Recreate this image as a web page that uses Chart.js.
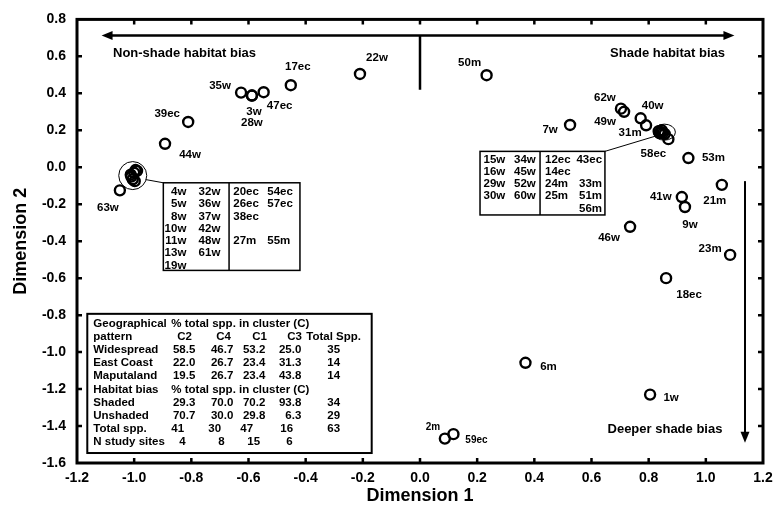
<!DOCTYPE html>
<html>
<head>
<meta charset="utf-8">
<script src="https://cdn.jsdelivr.net/npm/chart.js@4.4.1/dist/chart.umd.min.js"></script>
<style>
  html, body { margin: 0; padding: 0; background: #fff; }
  #wrap { width: 784px; height: 508px; }
</style>
</head>
<body>
<div id="wrap"><canvas id="ordination" width="784" height="508"></canvas></div>
<script>
// labelled sites (scores on the two ordination dimensions)
const siteLabels = ['22w', '17ec', '47ec', '3w', '28w', '35w', '39ec', '44w', '63w', '50m',
  '62w', '49w', '40w', '31m', '58ec', '7w', '53m', '21m', '41w', '9w',
  '46w', '23m', '18ec', '6m', '1w', '2m', '59ec'];
const dim1 = [-0.21, -0.452, -0.547, -0.588, -0.588, -0.626, -0.811, -0.892, -1.05, 0.233,
  0.703, 0.714, 0.772, 0.791, 0.869, 0.525, 0.939, 1.056, 0.916, 0.927,
  0.735, 1.085, 0.861, 0.369, 0.805, 0.087, 0.117];
const dim2 = [0.505, 0.444, 0.406, 0.388, 0.388, 0.404, 0.245, 0.127, -0.125, 0.498,
  0.317, 0.30, 0.265, 0.227, 0.152, 0.229, 0.05, -0.095, -0.161, -0.215,
  -0.322, -0.474, -0.60, -1.058, -1.23, -1.468, -1.444];

// tight clusters, listed in the boxes
const clusterC2Dim1 = [-0.995, -1.0, -1.01, -1.005, -0.998, -1.012, -0.99];
const clusterC2Dim2 = [-0.015, -0.03, -0.05, -0.065, -0.075, -0.04, -0.02];
const clusterC4Dim1 = [0.835, 0.842, 0.85, 0.856, 0.846, 0.838];
const clusterC4Dim2 = [0.195, 0.19, 0.185, 0.18, 0.2, 0.185];

const clusterC2Sites = [
  ['4w', '32w', '20ec', '54ec'],
  ['5w', '36w', '26ec', '57ec'],
  ['8w', '37w', '38ec', ''],
  ['10w', '42w', '', ''],
  ['11w', '48w', '27m', '55m'],
  ['13w', '61w', '', ''],
  ['19w', '', '', '']
];
const clusterC4Sites = [
  ['15w', '34w', '12ec', '43ec'],
  ['16w', '45w', '14ec', ''],
  ['29w', '52w', '24m', '33m'],
  ['30w', '60w', '25m', '51m'],
  ['', '', '', '56m']
];

// summary table
const clusterNames = ['C2', 'C4', 'C1', 'C3'];
const geoPatterns = ['Widespread', 'East Coast', 'Maputaland'];
const geoPct = [[58.5, 46.7, 53.2, 25.0], [22.0, 26.7, 23.4, 31.3], [19.5, 26.7, 23.4, 43.8]];
const geoTotal = [35, 14, 14];
const habitatBias = ['Shaded', 'Unshaded'];
const habitatPct = [[29.3, 70.0, 70.2, 93.8], [70.7, 30.0, 29.8, 6.3]];
const habitatTotal = [34, 29];
const totalSpp = [41, 30, 47, 16];
const totalSppAll = 63;
const studySites = [4, 8, 15, 6];

const FONT = '"Liberation Sans", Arial, sans-serif';

// where each site label sits relative to its circle (px)
const labelOffsets = {
  '22w': [17, -16], '17ec': [7, -18], '47ec': [16, 14], '3w': [2, 16], '28w': [0, 27],
  '35w': [-21, -7], '39ec': [-21, -8], '44w': [25, 11], '63w': [-12, 17], '50m': [-17, -12],
  '62w': [-16, -11], '49w': [-19, 10], '40w': [12, -12], '31m': [-16, 8], '58ec': [-15, 15],
  '7w': [-20, 5], '53m': [25, 0], '21m': [-7, 16], '41w': [-21, 0], '9w': [5, 18],
  '46w': [-21, 11], '23m': [-20, -6], '18ec': [23, 17], '6m': [23, 4], '1w': [21, 3],
  '2m': [-12, -11], '59ec': [23, 6]
};
const smallLabels = ['2m', '59ec'];

function fmtTick(v) {
  if (Math.abs(v) < 1e-9) return '0.0';
  return Number(v).toFixed(1);
}

function toPts(xs, ys) {
  return xs.map((x, i) => ({ x: x, y: ys[i] }));
}

function arrowHead(ctx, x, y, dir) {
  // dir: 'left' | 'right' | 'down'
  ctx.beginPath();
  if (dir === 'left') { ctx.moveTo(x, y); ctx.lineTo(x + 11, y - 4.5); ctx.lineTo(x + 11, y + 4.5); }
  if (dir === 'right') { ctx.moveTo(x, y); ctx.lineTo(x - 11, y - 4.5); ctx.lineTo(x - 11, y + 4.5); }
  if (dir === 'down') { ctx.moveTo(x, y); ctx.lineTo(x - 4.5, y - 11); ctx.lineTo(x + 4.5, y - 11); }
  ctx.closePath();
  ctx.fill();
}

const decorations = {
  id: 'decorations',
  afterDatasetsDraw(chart) {
    const ctx = chart.ctx;
    const sx = chart.scales.x, sy = chart.scales.y;
    const X = v => sx.getPixelForValue(v);
    const Y = v => sy.getPixelForValue(v);
    const area = chart.chartArea;
    ctx.save();
    ctx.fillStyle = '#000';
    ctx.strokeStyle = '#000';

    // frame
    ctx.lineWidth = 3;
    ctx.strokeRect(area.left, area.top, area.right - area.left, area.bottom - area.top);

    // inward tick marks on all four sides
    ctx.lineWidth = 2.5;
    sx.ticks.forEach(t => {
      const p = X(t.value);
      if (p <= area.left + 2 || p >= area.right - 2) return;
      ctx.beginPath();
      ctx.moveTo(p, area.bottom); ctx.lineTo(p, area.bottom - 5);
      ctx.moveTo(p, area.top); ctx.lineTo(p, area.top + 5);
      ctx.stroke();
    });
    sy.ticks.forEach(t => {
      const p = Y(t.value);
      if (p <= area.top + 2 || p >= area.bottom - 2) return;
      ctx.beginPath();
      ctx.moveTo(area.left, p); ctx.lineTo(area.left + 5, p);
      ctx.moveTo(area.right, p); ctx.lineTo(area.right - 5, p);
      ctx.stroke();
    });

    // habitat bias arrows
    const ay = Y(0.713);
    ctx.lineWidth = 2.5;
    ctx.beginPath();
    ctx.moveTo(X(-1.114) + 8, ay); ctx.lineTo(X(1.10) - 8, ay);
    ctx.moveTo(X(0), ay); ctx.lineTo(X(0), Y(0.419));
    ctx.stroke();
    arrowHead(ctx, X(-1.114), ay, 'left');
    arrowHead(ctx, X(1.10), ay, 'right');
    ctx.lineWidth = 2;
    ctx.beginPath();
    ctx.moveTo(X(1.137), Y(-0.075)); ctx.lineTo(X(1.137), Y(-1.49) - 8);
    ctx.stroke();
    arrowHead(ctx, X(1.137), Y(-1.49), 'down');

    ctx.font = 'bold 13px ' + FONT;
    ctx.textBaseline = 'middle';
    ctx.textAlign = 'left';
    ctx.fillText('Non-shade habitat bias', X(-1.074), Y(0.617));
    ctx.textAlign = 'right';
    ctx.fillText('Shade habitat bias', X(1.067), Y(0.617));
    ctx.textAlign = 'center';
    ctx.fillText('Deeper shade bias', X(0.857), Y(-1.417));

    // site labels
    siteLabels.forEach((lab, i) => {
      const off = labelOffsets[lab] || [0, -12];
      ctx.font = (smallLabels.includes(lab) ? 'bold 10px ' : 'bold 11.5px ') + FONT;
      ctx.fillText(lab, X(dim1[i]) + off[0], Y(dim2[i]) + off[1]);
    });

    // cluster rings and connectors
    ctx.lineWidth = 1;
    ctx.beginPath();
    ctx.ellipse(X(-1.005), Y(-0.045), 14, 14, 0, 0, Math.PI * 2);
    ctx.stroke();
    ctx.beginPath();
    ctx.ellipse(X(0.855), Y(0.19), 11, 8, 0, 0, Math.PI * 2);
    ctx.stroke();

    // box for cluster C2
    const b1 = { l: X(-0.898), t: Y(-0.084), r: X(-0.42), b: Y(-0.558) };
    const b1Div = X(-0.668);
    ctx.beginPath();
    ctx.moveTo(X(-1.005) + 13, Y(-0.045) + 4); ctx.lineTo(b1.l, b1.t);
    ctx.stroke();
    ctx.lineWidth = 1.5;
    ctx.strokeRect(b1.l, b1.t, b1.r - b1.l, b1.b - b1.t);
    ctx.beginPath(); ctx.moveTo(b1Div, b1.t); ctx.lineTo(b1Div, b1.b); ctx.stroke();
    ctx.font = 'bold 11.5px ' + FONT;
    clusterC2Sites.forEach((row, r) => {
      const y = b1.t + 9 + r * 12.3;
      ctx.textAlign = 'right';
      ctx.fillText(row[0], b1.l + 23, y);
      ctx.fillText(row[1], b1.l + 57, y);
      ctx.textAlign = 'left';
      ctx.fillText(row[2], b1.l + 70, y);
      ctx.fillText(row[3], b1.l + 104, y);
    });

    // box for cluster C4
    const b2 = { l: X(0.21), t: Y(0.086), r: X(0.647), b: Y(-0.258) };
    const b2Div = X(0.42);
    ctx.lineWidth = 1;
    ctx.beginPath();
    ctx.moveTo(b2.r, b2.t); ctx.lineTo(X(0.855) - 9, Y(0.19) + 4);
    ctx.stroke();
    ctx.lineWidth = 1.5;
    ctx.strokeRect(b2.l, b2.t, b2.r - b2.l, b2.b - b2.t);
    ctx.beginPath(); ctx.moveTo(b2Div, b2.t); ctx.lineTo(b2Div, b2.b); ctx.stroke();
    clusterC4Sites.forEach((row, r) => {
      const y = b2.t + 8 + r * 12.3;
      ctx.textAlign = 'left';
      ctx.fillText(row[0], b2.l + 3.5, y);
      ctx.fillText(row[1], b2.l + 34, y);
      ctx.fillText(row[2], b2.l + 65, y);
      ctx.textAlign = 'right';
      ctx.fillText(row[3], b2.l + 122, y);
    });

    // summary table
    const tb = { l: X(-1.164), t: Y(-0.793), r: X(-0.169), b: Y(-1.546) };
    ctx.lineWidth = 2;
    ctx.strokeRect(tb.l, tb.t, tb.r - tb.l, tb.b - tb.t);
    const rowY = i => tb.t + 10 + i * 13.1;
    const labX = tb.l + 6;
    const pctRight = [108, 146, 178, 214];
    const totLeft = 240;
    const txt = (s, x, y, align) => { ctx.textAlign = align; ctx.fillText(s, x, y); };
    txt('Geographical', labX, rowY(0), 'left');
    txt('% total spp. in cluster (C)', tb.l + 84, rowY(0), 'left');
    txt('pattern', labX, rowY(1), 'left');
    clusterNames.forEach((c, k) => txt(c, tb.l + [90, 129, 165, 200][k], rowY(1), 'left'));
    txt('Total Spp.', tb.l + 219, rowY(1), 'left');
    geoPatterns.forEach((g, r) => {
      txt(g, labX, rowY(2 + r), 'left');
      geoPct[r].forEach((v, k) => txt(v.toFixed(1), tb.l + pctRight[k], rowY(2 + r), 'right'));
      txt(String(geoTotal[r]), tb.l + totLeft, rowY(2 + r), 'left');
    });
    txt('Habitat bias', labX, rowY(5), 'left');
    txt('% total spp. in cluster (C)', tb.l + 84, rowY(5), 'left');
    habitatBias.forEach((h, r) => {
      txt(h, labX, rowY(6 + r), 'left');
      habitatPct[r].forEach((v, k) => txt(v.toFixed(1), tb.l + pctRight[k], rowY(6 + r), 'right'));
      txt(String(habitatTotal[r]), tb.l + totLeft, rowY(6 + r), 'left');
    });
    txt('Total spp.', labX, rowY(8), 'left');
    totalSpp.forEach((v, k) => txt(String(v), tb.l + [84, 121, 153, 193][k], rowY(8), 'left'));
    txt(String(totalSppAll), tb.l + totLeft, rowY(8), 'left');
    txt('N study sites', labX, rowY(9), 'left');
    studySites.forEach((v, k) => txt(String(v), tb.l + [92, 131, 160, 199][k], rowY(9), 'left'));

    ctx.restore();
  }
};

const ringStyle = {
  pointRadius: 5,
  pointBorderWidth: 2.4,
  borderColor: '#000',
  backgroundColor: 'rgba(0,0,0,0)',
  pointHoverRadius: 5
};

const tickFont = { family: FONT, size: 14, weight: 'bold' };
const titleFont = { family: FONT, size: 18, weight: 'bold' };

new Chart(document.getElementById('ordination').getContext('2d'), {
  type: 'scatter',
  data: {
    datasets: [
      Object.assign({ label: 'sites', data: toPts(dim1, dim2) }, ringStyle),
      Object.assign({ label: 'cluster C2', data: toPts(clusterC2Dim1, clusterC2Dim2) }, ringStyle),
      Object.assign({ label: 'cluster C4', data: toPts(clusterC4Dim1, clusterC4Dim2) }, ringStyle)
    ]
  },
  options: {
    responsive: false,
    animation: false,
    events: [],
    layout: { padding: { top: 16, right: 21, left: 0, bottom: 0 } },
    plugins: { legend: { display: false }, tooltip: { enabled: false } },
    scales: {
      x: {
        type: 'linear', min: -1.2, max: 1.2,
        grid: { display: false, drawTicks: false }, border: { display: false },
        ticks: { stepSize: 0.2, padding: 7, color: '#000', font: tickFont, maxRotation: 0, autoSkip: false, callback: fmtTick },
        title: { display: true, text: 'Dimension 1', color: '#000', font: titleFont, padding: { top: 0, bottom: 1 } },
        afterFit: s => { s.height = 45; }
      },
      y: {
        type: 'linear', min: -1.6, max: 0.8,
        grid: { display: false, drawTicks: false }, border: { display: false },
        ticks: { stepSize: 0.2, padding: 11, color: '#000', font: tickFont, autoSkip: false, callback: fmtTick },
        title: { display: true, text: 'Dimension 2', color: '#000', font: titleFont, padding: { top: 10, bottom: 0 } },
        afterFit: s => { s.width = 77; }
      }
    }
  },
  plugins: [decorations]
});
</script>
</body>
</html>
